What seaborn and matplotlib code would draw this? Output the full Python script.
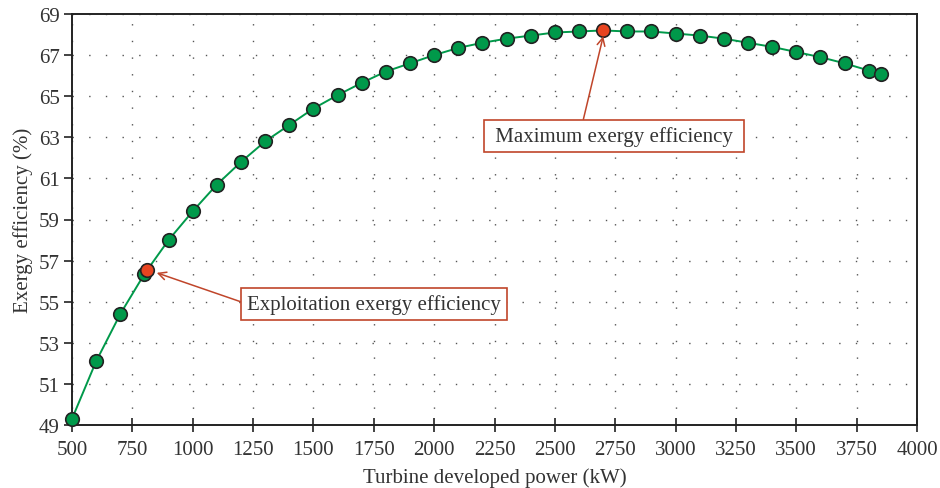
import matplotlib
matplotlib.use("Agg")
import matplotlib.pyplot as plt
import seaborn as sns
import pandas as pd

power = [500, 600, 700, 800, 900, 1000, 1100, 1200, 1300, 1400, 1500, 1600, 1700, 1800,
         1900, 2000, 2100, 2200, 2300, 2400, 2500, 2600, 2800, 2900, 3000,
         3100, 3200, 3300, 3400, 3500, 3600, 3700, 3800, 3850]
efficiency = [49.3, 52.1, 54.4, 56.35, 58.0, 59.4, 60.7, 61.8, 62.8, 63.6, 64.4, 65.05, 65.65, 66.2,
              66.6, 67.0, 67.35, 67.6, 67.8, 67.95, 68.1, 68.15, 68.15, 68.15, 68.05,
              67.95, 67.8, 67.6, 67.4, 67.15, 66.9, 66.6, 66.25, 66.1]
special_power = [810, 2700]
special_eff = [56.55, 68.2]
special_labels = ["Exploitation exergy efficiency", "Maximum exergy efficiency"]

x_ticks = [500, 750, 1000, 1250, 1500, 1750, 2000, 2250, 2500, 2750, 3000, 3250, 3500, 3750, 4000]
y_ticks = [49, 51, 53, 55, 57, 59, 61, 63, 65, 67, 69]

sns.set_theme(style="white")
plt.rcParams["font.family"] = ["Liberation Serif", "DejaVu Serif"]

fig = plt.figure(figsize=(9.4, 4.89), dpi=100)
ax = fig.add_axes([72/940, 1-426/489, (917-72)/940, (426-15)/489])

df = pd.DataFrame({"power": power + special_power[1:], "eff": efficiency + special_eff[1:]}).sort_values("power")
green = "#00994a"
sns.lineplot(data=df, x="power", y="eff", ax=ax, color=green, lw=1.4, zorder=2)
sns.scatterplot(x=power, y=efficiency, ax=ax, color=green, s=95, edgecolor="#222222",
                linewidth=1.2, zorder=3, clip_on=False)
sns.scatterplot(x=special_power, y=special_eff, ax=ax, color="#e84420", s=95, edgecolor="#222222",
                linewidth=1.2, zorder=4, clip_on=False)

ax.set_xlim(500, 4000)
ax.set_ylim(49, 69)
ax.set_xticks(x_ticks)
ax.set_yticks(y_ticks)
ax.grid(True, color="#555555", linestyle=(0, (1, 11)), linewidth=1.0)
for s in ax.spines.values():
    s.set_color("#222222")
    s.set_linewidth(1.4)
ax.tick_params(axis="x", direction="inout", length=10, width=1.2, color="#222222",
               labelsize=15, labelcolor="#333333", pad=6, bottom=True)
ax.tick_params(axis="y", direction="out", length=6, width=1.2, color="#222222",
               labelsize=15, labelcolor="#333333", pad=3, left=True)
ax.set_xlabel("Turbine developed power (kW)", fontsize=15, color="#333333", labelpad=6)
ax.set_ylabel("Exergy efficiency (%)", fontsize=15, color="#333333", labelpad=4)

box = dict(boxstyle="square,pad=0.3", fc="white", ec="#c0452a", lw=1.2)
ax.annotate(special_labels[0], xy=(840, 56.45), xytext=(1751, 54.89), fontsize=15,
            color="#333333", ha="center", va="center", bbox=box, zorder=5,
            arrowprops=dict(arrowstyle="->", color="#c0452a", lw=1.1, mutation_scale=14,
                            shrinkA=0, shrinkB=2, relpos=(0, 0.5)))
ax.annotate(" " + special_labels[1] + " ", xy=(2703, 68.05), xytext=(2745, 63.06), fontsize=15,
            color="#333333", ha="center", va="center", bbox=box, zorder=5,
            arrowprops=dict(arrowstyle="->", color="#c0452a", lw=1.1, mutation_scale=14,
                            shrinkA=0, shrinkB=2, relpos=(0.37, 1)))

fig.savefig("out.png", dpi=100)
